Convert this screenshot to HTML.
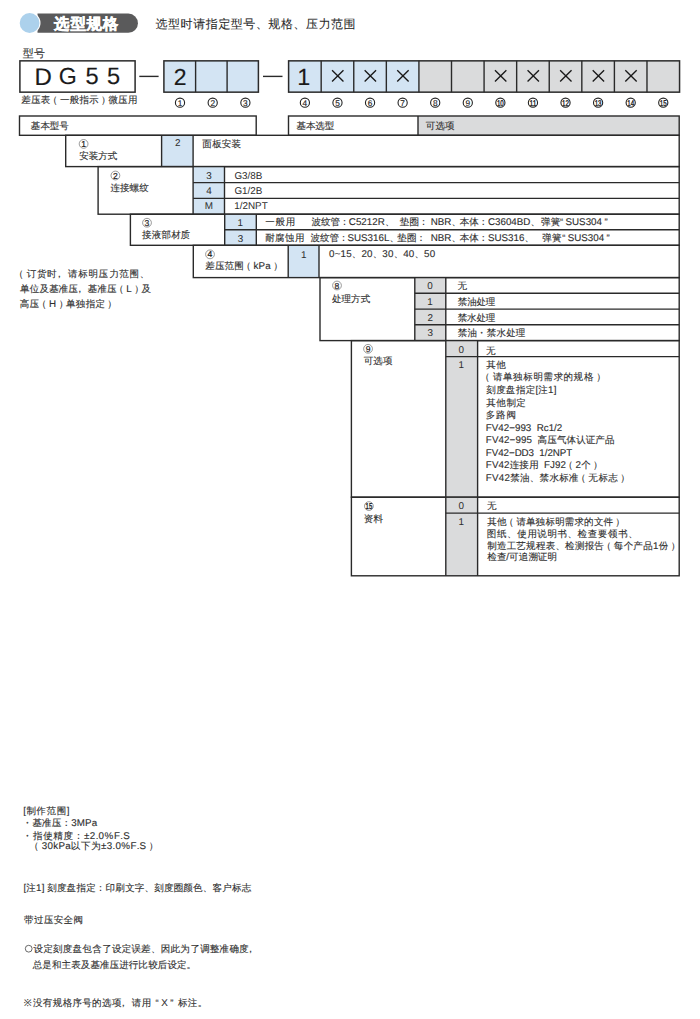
<!DOCTYPE html>
<html><head><meta charset="utf-8"><title>选型规格</title>
<style>
html,body{margin:0;padding:0;background:#fff;width:700px;height:1019px;overflow:hidden}
svg{display:block;font-family:"Liberation Sans", sans-serif;text-rendering:geometricPrecision}
</style></head><body>
<svg width="700" height="1019" viewBox="0 0 700 1019">
<path d="M37.5 13.6 H128.4 A9.55 9.55 0 0 1 128.4 32.7 H37.5 Z" fill="#5a5a5b"/>
<circle cx="29.6" cy="23" r="10.9" fill="#fff"/>
<circle cx="29.6" cy="23" r="9.9" fill="#acd1ec"/>
<text x="54.10 70.39 86.56 102.85" y="29.25" font-size="15.4" font-weight="bold" fill="#fff" stroke="#fff" stroke-width="0.45">选型规格</text>
<text x="155.45 168.11 180.39 193.29 205.83 218.48 230.76 243.30 255.89 268.24 281.02 293.49 305.95 318.86 330.89 343.55" y="28.12" font-size="12" fill="#2a2a2a" stroke="#2a2a2a" stroke-width="0.08">选型时请指定型号、规格、压力范围</text>
<text x="22.85 34.10" y="56.60" font-size="11" fill="#2e2e2e" stroke="#2e2e2e" stroke-width="0.1">型号</text>
<rect x="19.9" y="60.85" width="115.20" height="31.30" fill="none" stroke="#2a2a2a" stroke-width="1.5"/>
<text x="34.40" y="84.50" font-size="24.0" fill="#1a1a1a" stroke="#1a1a1a" stroke-width="0.15">D</text>
<text x="58.75" y="84.25" font-size="23.2" fill="#1a1a1a" stroke="#1a1a1a" stroke-width="0.15">G</text>
<text x="85.40" y="84.25" font-size="23.6" fill="#1a1a1a" stroke="#1a1a1a" stroke-width="0.15">5</text>
<text x="106.90" y="84.25" font-size="23.6" fill="#1a1a1a" stroke="#1a1a1a" stroke-width="0.15">5</text>
<text x="21.25 30.93 40.73 47.91 59.97 69.77 79.58 89.01 101.06 108.49 118.05 128.10" y="102.92" font-size="9.5" fill="#2e2e2e" stroke="#2e2e2e" stroke-width="0.12">差压表（一般指示）微压用</text>
<line x1="139.3" y1="76.4" x2="158.6" y2="76.4" stroke="#2a2a2a" stroke-width="1.4"/>
<rect x="163.9" y="60.85" width="94.50" height="31.30" fill="#d3e4f3" stroke="#2a2a2a" stroke-width="1.5"/>
<line x1="195.6" y1="60.85" x2="195.6" y2="92.15" stroke="#2a2a2a" stroke-width="1.4"/>
<line x1="227.1" y1="60.85" x2="227.1" y2="92.15" stroke="#2a2a2a" stroke-width="1.4"/>
<text x="173.75" y="84.50" font-size="23.0" fill="#1a1a1a" stroke="#1a1a1a" stroke-width="0.15">2</text>
<line x1="263" y1="76.4" x2="282.5" y2="76.4" stroke="#2a2a2a" stroke-width="1.4"/>
<rect x="288.6" y="60.85" width="32.58" height="31.30" fill="#d3e4f3"/>
<rect x="321.18" y="60.85" width="32.58" height="31.30" fill="#d3e4f3"/>
<rect x="353.76" y="60.85" width="32.58" height="31.30" fill="#d3e4f3"/>
<rect x="386.34000000000003" y="60.85" width="32.58" height="31.30" fill="#d3e4f3"/>
<rect x="418.92" y="60.85" width="32.58" height="31.30" fill="#dadbdc"/>
<rect x="451.5" y="60.85" width="32.58" height="31.30" fill="#dadbdc"/>
<rect x="484.08000000000004" y="60.85" width="32.58" height="31.30" fill="#dadbdc"/>
<rect x="516.6600000000001" y="60.85" width="32.58" height="31.30" fill="#dadbdc"/>
<rect x="549.24" y="60.85" width="32.58" height="31.30" fill="#dadbdc"/>
<rect x="581.8199999999999" y="60.85" width="32.58" height="31.30" fill="#dadbdc"/>
<rect x="614.4" y="60.85" width="32.58" height="31.30" fill="#dadbdc"/>
<rect x="646.98" y="60.85" width="32.58" height="31.30" fill="#dadbdc"/>
<rect x="288.6" y="60.85" width="390.96" height="31.30" fill="none" stroke="#2a2a2a" stroke-width="1.5"/>
<line x1="321.18" y1="60.85" x2="321.18" y2="92.15" stroke="#2a2a2a" stroke-width="1.4"/>
<line x1="353.76" y1="60.85" x2="353.76" y2="92.15" stroke="#2a2a2a" stroke-width="1.4"/>
<line x1="386.34000000000003" y1="60.85" x2="386.34000000000003" y2="92.15" stroke="#2a2a2a" stroke-width="1.4"/>
<line x1="418.92" y1="60.85" x2="418.92" y2="92.15" stroke="#2a2a2a" stroke-width="1.4"/>
<line x1="451.5" y1="60.85" x2="451.5" y2="92.15" stroke="#2a2a2a" stroke-width="1.4"/>
<line x1="484.08000000000004" y1="60.85" x2="484.08000000000004" y2="92.15" stroke="#2a2a2a" stroke-width="1.4"/>
<line x1="516.6600000000001" y1="60.85" x2="516.6600000000001" y2="92.15" stroke="#2a2a2a" stroke-width="1.4"/>
<line x1="549.24" y1="60.85" x2="549.24" y2="92.15" stroke="#2a2a2a" stroke-width="1.4"/>
<line x1="581.8199999999999" y1="60.85" x2="581.8199999999999" y2="92.15" stroke="#2a2a2a" stroke-width="1.4"/>
<line x1="614.4" y1="60.85" x2="614.4" y2="92.15" stroke="#2a2a2a" stroke-width="1.4"/>
<line x1="646.98" y1="60.85" x2="646.98" y2="92.15" stroke="#2a2a2a" stroke-width="1.4"/>
<text x="297.32" y="84.62" font-size="23.4" fill="#1a1a1a" stroke="#1a1a1a" stroke-width="0.15">1</text>
<path d="M332.07 70.20 L343.47 81.60 M343.47 70.20 L332.07 81.60" stroke="#1a1a1a" stroke-width="1.35"/>
<path d="M364.65 70.20 L376.05 81.60 M376.05 70.20 L364.65 81.60" stroke="#1a1a1a" stroke-width="1.35"/>
<path d="M397.23 70.20 L408.63 81.60 M408.63 70.20 L397.23 81.60" stroke="#1a1a1a" stroke-width="1.35"/>
<path d="M494.97 70.20 L506.37 81.60 M506.37 70.20 L494.97 81.60" stroke="#1a1a1a" stroke-width="1.35"/>
<path d="M527.55 70.20 L538.95 81.60 M538.95 70.20 L527.55 81.60" stroke="#1a1a1a" stroke-width="1.35"/>
<path d="M560.13 70.20 L571.53 81.60 M571.53 70.20 L560.13 81.60" stroke="#1a1a1a" stroke-width="1.35"/>
<path d="M592.71 70.20 L604.11 81.60 M604.11 70.20 L592.71 81.60" stroke="#1a1a1a" stroke-width="1.35"/>
<path d="M625.29 70.20 L636.69 81.60 M636.69 70.20 L625.29 81.60" stroke="#1a1a1a" stroke-width="1.35"/>
<circle cx="180.00" cy="102.70" r="4.6" fill="none" stroke="#222" stroke-width="1.1"/>
<text x="180.00" y="105.64" font-size="8.3" text-anchor="middle" fill="#1e1e1e" stroke="#1e1e1e" stroke-width="0.15">1</text>
<circle cx="212.70" cy="102.70" r="4.6" fill="none" stroke="#222" stroke-width="1.1"/>
<text x="212.70" y="105.64" font-size="8.3" text-anchor="middle" fill="#1e1e1e" stroke="#1e1e1e" stroke-width="0.15">2</text>
<circle cx="245.40" cy="102.70" r="4.6" fill="none" stroke="#222" stroke-width="1.1"/>
<text x="245.40" y="105.64" font-size="8.3" text-anchor="middle" fill="#1e1e1e" stroke="#1e1e1e" stroke-width="0.15">3</text>
<circle cx="304.89" cy="102.70" r="4.6" fill="none" stroke="#222" stroke-width="1.1"/>
<text x="304.89" y="105.64" font-size="8.3" text-anchor="middle" fill="#1e1e1e" stroke="#1e1e1e" stroke-width="0.15">4</text>
<circle cx="337.47" cy="102.70" r="4.6" fill="none" stroke="#222" stroke-width="1.1"/>
<text x="337.47" y="105.64" font-size="8.3" text-anchor="middle" fill="#1e1e1e" stroke="#1e1e1e" stroke-width="0.15">5</text>
<circle cx="370.05" cy="102.70" r="4.6" fill="none" stroke="#222" stroke-width="1.1"/>
<text x="370.05" y="105.64" font-size="8.3" text-anchor="middle" fill="#1e1e1e" stroke="#1e1e1e" stroke-width="0.15">6</text>
<circle cx="402.63" cy="102.70" r="4.6" fill="none" stroke="#222" stroke-width="1.1"/>
<text x="402.63" y="105.64" font-size="8.3" text-anchor="middle" fill="#1e1e1e" stroke="#1e1e1e" stroke-width="0.15">7</text>
<circle cx="435.21" cy="102.70" r="4.6" fill="none" stroke="#222" stroke-width="1.1"/>
<text x="435.21" y="105.64" font-size="8.3" text-anchor="middle" fill="#1e1e1e" stroke="#1e1e1e" stroke-width="0.15">8</text>
<circle cx="467.79" cy="102.70" r="4.6" fill="none" stroke="#222" stroke-width="1.1"/>
<text x="467.79" y="105.64" font-size="8.3" text-anchor="middle" fill="#1e1e1e" stroke="#1e1e1e" stroke-width="0.15">9</text>
<circle cx="500.37" cy="102.70" r="4.6" fill="none" stroke="#222" stroke-width="1.1"/>
<text x="496.92" y="105.64" font-size="8.3" textLength="6.90" lengthAdjust="spacingAndGlyphs" fill="#1e1e1e" stroke="#1e1e1e" stroke-width="0.35">10</text>
<circle cx="532.95" cy="102.70" r="4.6" fill="none" stroke="#222" stroke-width="1.1"/>
<text x="529.50" y="105.64" font-size="8.3" textLength="6.90" lengthAdjust="spacingAndGlyphs" fill="#1e1e1e" stroke="#1e1e1e" stroke-width="0.35">11</text>
<circle cx="565.53" cy="102.70" r="4.6" fill="none" stroke="#222" stroke-width="1.1"/>
<text x="562.08" y="105.64" font-size="8.3" textLength="6.90" lengthAdjust="spacingAndGlyphs" fill="#1e1e1e" stroke="#1e1e1e" stroke-width="0.35">12</text>
<circle cx="598.11" cy="102.70" r="4.6" fill="none" stroke="#222" stroke-width="1.1"/>
<text x="594.66" y="105.64" font-size="8.3" textLength="6.90" lengthAdjust="spacingAndGlyphs" fill="#1e1e1e" stroke="#1e1e1e" stroke-width="0.35">13</text>
<circle cx="630.69" cy="102.70" r="4.6" fill="none" stroke="#222" stroke-width="1.1"/>
<text x="627.24" y="105.64" font-size="8.3" textLength="6.90" lengthAdjust="spacingAndGlyphs" fill="#1e1e1e" stroke="#1e1e1e" stroke-width="0.35">14</text>
<circle cx="663.27" cy="102.70" r="4.6" fill="none" stroke="#222" stroke-width="1.1"/>
<text x="659.82" y="105.64" font-size="8.3" textLength="6.90" lengthAdjust="spacingAndGlyphs" fill="#1e1e1e" stroke="#1e1e1e" stroke-width="0.35">15</text>
<rect x="19.5" y="116" width="236.70" height="19.30" fill="none" stroke="#2a2a2a" stroke-width="1.4"/>
<rect x="418" y="116" width="261.20" height="19.30" fill="#dadbdc"/>
<rect x="288.5" y="116" width="390.70" height="19.30" fill="none" stroke="#2a2a2a" stroke-width="1.4"/>
<line x1="418" y1="116" x2="418" y2="135.3" stroke="#2a2a2a" stroke-width="1.4"/>
<text x="30.85 40.39 49.81 59.35" y="129.10" font-size="9.5" fill="#2e2e2e" stroke="#2e2e2e" stroke-width="0.12">基本型号</text>
<text x="296.55 305.96 315.24 324.65" y="129.10" font-size="9.5" fill="#2e2e2e" stroke="#2e2e2e" stroke-width="0.12">基本选型</text>
<text x="425.85 435.39 445.05" y="129.10" font-size="9.5" fill="#2e2e2e" stroke="#2e2e2e" stroke-width="0.12">可选项</text>
<rect x="161.6" y="135.3" width="31.50" height="31.30" fill="#d3e4f3"/>
<rect x="65.7" y="135.3" width="613.50" height="31.30" fill="none" stroke="#2a2a2a" stroke-width="1.4"/>
<line x1="161.6" y1="135.3" x2="161.6" y2="166.6" stroke="#2a2a2a" stroke-width="1.4"/>
<line x1="193.1" y1="135.3" x2="193.1" y2="166.6" stroke="#2a2a2a" stroke-width="1.4"/>
<circle cx="83.60" cy="143.90" r="4.4" fill="none" stroke="#707070" stroke-width="0.7"/>
<text x="83.60" y="146.95" font-size="8.6" text-anchor="middle" fill="#222" stroke="#222" stroke-width="0.2">1</text>
<text x="79.35 88.77 98.31 107.85" y="159.38" font-size="9.5" fill="#2e2e2e" stroke="#2e2e2e" stroke-width="0.12">安装方式</text>
<text x="174.95" y="146.07" font-size="9.9" fill="#2e2e2e">2</text>
<text x="202.25 212.22 221.81 231.40" y="146.53" font-size="9.5" fill="#2e2e2e" stroke="#2e2e2e" stroke-width="0.12">面板安装</text>
<rect x="193.1" y="166.6" width="31.40" height="47.60" fill="#d3e4f3"/>
<rect x="98.1" y="166.6" width="581.10" height="47.60" fill="none" stroke="#2a2a2a" stroke-width="1.4"/>
<line x1="193.1" y1="166.6" x2="193.1" y2="214.2" stroke="#2a2a2a" stroke-width="1.4"/>
<line x1="224.5" y1="166.6" x2="224.5" y2="214.2" stroke="#2a2a2a" stroke-width="1.4"/>
<line x1="193.1" y1="182.6" x2="679.2" y2="182.6" stroke="#2a2a2a" stroke-width="1.4"/>
<line x1="193.1" y1="198.4" x2="679.2" y2="198.4" stroke="#2a2a2a" stroke-width="1.4"/>
<circle cx="115.40" cy="175.50" r="4.4" fill="none" stroke="#707070" stroke-width="0.7"/>
<text x="115.40" y="178.55" font-size="8.6" text-anchor="middle" fill="#222" stroke="#222" stroke-width="0.2">2</text>
<text x="110.45 119.89 129.46 139.15" y="190.75" font-size="9.5" fill="#2e2e2e" stroke="#2e2e2e" stroke-width="0.12">连接螺纹</text>
<text x="206.15" y="178.72" font-size="9.9" fill="#2e2e2e">3</text>
<text x="234.40 242.09 247.59 250.34 255.84" y="178.85" font-size="9.9" fill="#2e2e2e">G3/8B</text>
<text x="206.15" y="193.98" font-size="9.9" fill="#2e2e2e">4</text>
<text x="234.40 242.09 247.59 250.34 255.84" y="194.10" font-size="9.9" fill="#2e2e2e">G1/2B</text>
<text x="204.78" y="208.97" font-size="9.9" fill="#2e2e2e">M</text>
<text x="234.15 239.65 242.40 247.90 255.04 261.63" y="209.10" font-size="9.9" fill="#2e2e2e">1/2NPT</text>
<rect x="224.7" y="214.2" width="31.60" height="31.10" fill="#d3e4f3"/>
<rect x="130.4" y="214.2" width="548.80" height="31.10" fill="none" stroke="#2a2a2a" stroke-width="1.4"/>
<line x1="224.7" y1="214.2" x2="224.7" y2="245.3" stroke="#2a2a2a" stroke-width="1.4"/>
<line x1="256.3" y1="214.2" x2="256.3" y2="245.3" stroke="#2a2a2a" stroke-width="1.4"/>
<line x1="224.7" y1="229.8" x2="679.2" y2="229.8" stroke="#2a2a2a" stroke-width="1.4"/>
<circle cx="147.00" cy="222.75" r="4.4" fill="none" stroke="#707070" stroke-width="0.7"/>
<text x="147.00" y="225.80" font-size="8.6" text-anchor="middle" fill="#222" stroke="#222" stroke-width="0.2">3</text>
<text x="142.05 151.83 161.61 171.14 180.55" y="237.98" font-size="9.5" fill="#2e2e2e" stroke="#2e2e2e" stroke-width="0.12">接液部材质</text>
<text x="237.62" y="225.68" font-size="9.9" fill="#2e2e2e">1</text>
<text x="237.75" y="241.52" font-size="9.9" fill="#2e2e2e">3</text>
<text x="265.20 275.44 285.80" y="225.18" font-size="9.5" fill="#2e2e2e" stroke="#2e2e2e" stroke-width="0.12">一般用</text>
<text x="311.45 320.95 330.45 339.82" y="225.30" font-size="9.5" fill="#2e2e2e" stroke="#2e2e2e" stroke-width="0.12">波纹管：</text>
<text x="348.80 355.88 361.33 366.78 372.24 377.69" y="224.80" font-size="9.8" fill="#2e2e2e" stroke="#2e2e2e" stroke-width="0.12">C5212R</text>
<text x="384.91" y="224.80" font-size="9.5" fill="#2e2e2e" stroke="#2e2e2e" stroke-width="0.12">、</text>
<text x="399.75 409.38 418.75" y="225.30" font-size="9.5" fill="#2e2e2e" stroke="#2e2e2e" stroke-width="0.12">垫圈：</text>
<text x="430.65 437.73 444.27" y="224.80" font-size="9.8" fill="#2e2e2e" stroke="#2e2e2e" stroke-width="0.12">NBR</text>
<text x="451.49" y="224.80" font-size="9.5" fill="#2e2e2e" stroke="#2e2e2e" stroke-width="0.12">、</text>
<text x="459.65 469.15 478.52" y="225.30" font-size="9.5" fill="#2e2e2e" stroke="#2e2e2e" stroke-width="0.12">本体：</text>
<text x="487.90 494.98 500.43 505.88 511.34 516.79 523.34" y="224.80" font-size="9.8" fill="#2e2e2e" stroke="#2e2e2e" stroke-width="0.12">C3604BD</text>
<text x="530.56" y="224.80" font-size="9.5" fill="#2e2e2e" stroke="#2e2e2e" stroke-width="0.12">、</text>
<text x="541.05 550.67" y="225.18" font-size="9.5" fill="#2e2e2e" stroke="#2e2e2e" stroke-width="0.12">弹簧</text>
<text x="560.05" y="225.30" font-size="9.5" fill="#2e2e2e" stroke="#2e2e2e" stroke-width="0.12">“</text>
<text x="565.46 572.01 579.08 585.63 591.08 596.54" y="225.30" font-size="9.8" fill="#2e2e2e" stroke="#2e2e2e" stroke-width="0.12">SUS304</text>
<text x="604.40" y="225.30" font-size="9.5" fill="#2e2e2e" stroke="#2e2e2e" stroke-width="0.12">”</text>
<text x="265.20 275.00 284.93 295.10" y="241.32" font-size="9.5" fill="#2e2e2e" stroke="#2e2e2e" stroke-width="0.12">耐腐蚀用</text>
<text x="310.45 319.95 329.45 338.82" y="241.20" font-size="9.5" fill="#2e2e2e" stroke="#2e2e2e" stroke-width="0.12">波纹管：</text>
<text x="347.40 353.95 361.02 367.57 373.02 378.48 383.93" y="240.70" font-size="9.8" fill="#2e2e2e" stroke="#2e2e2e" stroke-width="0.12">SUS316L</text>
<text x="389.52" y="240.70" font-size="9.5" fill="#2e2e2e" stroke="#2e2e2e" stroke-width="0.12">、</text>
<text x="397.25 406.88 416.25" y="241.20" font-size="9.5" fill="#2e2e2e" stroke="#2e2e2e" stroke-width="0.12">垫圈：</text>
<text x="430.65 437.73 444.27" y="240.70" font-size="9.8" fill="#2e2e2e" stroke="#2e2e2e" stroke-width="0.12">NBR</text>
<text x="451.49" y="240.70" font-size="9.5" fill="#2e2e2e" stroke="#2e2e2e" stroke-width="0.12">、</text>
<text x="459.65 469.15 478.52" y="241.20" font-size="9.5" fill="#2e2e2e" stroke="#2e2e2e" stroke-width="0.12">本体：</text>
<text x="487.90 494.45 501.52 508.07 513.52 518.98" y="240.70" font-size="9.8" fill="#2e2e2e" stroke="#2e2e2e" stroke-width="0.12">SUS316</text>
<text x="524.57" y="240.70" font-size="9.5" fill="#2e2e2e" stroke="#2e2e2e" stroke-width="0.12">、</text>
<text x="542.35 551.98" y="241.07" font-size="9.5" fill="#2e2e2e" stroke="#2e2e2e" stroke-width="0.12">弹簧</text>
<text x="562.25" y="241.20" font-size="9.5" fill="#2e2e2e" stroke="#2e2e2e" stroke-width="0.12">“</text>
<text x="567.66 574.21 581.28 587.83 593.28 598.74" y="241.20" font-size="9.8" fill="#2e2e2e" stroke="#2e2e2e" stroke-width="0.12">SUS304</text>
<text x="606.60" y="241.20" font-size="9.5" fill="#2e2e2e" stroke="#2e2e2e" stroke-width="0.12">”</text>
<rect x="288.2" y="245.3" width="30.80" height="32.30" fill="#d3e4f3"/>
<rect x="193.3" y="245.3" width="485.90" height="32.30" fill="none" stroke="#2a2a2a" stroke-width="1.4"/>
<line x1="288.2" y1="245.3" x2="288.2" y2="277.6" stroke="#2a2a2a" stroke-width="1.4"/>
<line x1="319" y1="245.3" x2="319" y2="277.6" stroke="#2a2a2a" stroke-width="1.4"/>
<circle cx="210.00" cy="254.35" r="4.4" fill="none" stroke="#707070" stroke-width="0.7"/>
<text x="210.00" y="257.40" font-size="8.6" text-anchor="middle" fill="#222" stroke="#222" stroke-width="0.2">4</text>
<text x="205.25 214.92 224.58 234.37 241.54" y="269.15" font-size="9.5" fill="#2e2e2e" stroke="#2e2e2e" stroke-width="0.12">差压范围（</text>
<text x="253.58 258.57 265.23" y="269.15" font-size="9.8" fill="#2e2e2e" stroke="#2e2e2e" stroke-width="0.12">kPa</text>
<text x="273.15" y="269.15" font-size="9.5" fill="#2e2e2e" stroke="#2e2e2e" stroke-width="0.12">）</text>
<text x="300.93" y="257.68" font-size="9.9" fill="#2e2e2e">1</text>
<text x="329.10 334.68 340.55 346.14" y="257.30" font-size="9.8" fill="#2e2e2e" stroke="#2e2e2e" stroke-width="0.12">0~15</text>
<text x="351.86" y="257.30" font-size="9.5" fill="#2e2e2e" stroke="#2e2e2e" stroke-width="0.12">、</text>
<text x="361.44 367.03" y="257.30" font-size="9.8" fill="#2e2e2e" stroke="#2e2e2e" stroke-width="0.12">20</text>
<text x="372.75" y="257.30" font-size="9.5" fill="#2e2e2e" stroke="#2e2e2e" stroke-width="0.12">、</text>
<text x="382.34 387.92" y="257.30" font-size="9.8" fill="#2e2e2e" stroke="#2e2e2e" stroke-width="0.12">30</text>
<text x="393.64" y="257.30" font-size="9.5" fill="#2e2e2e" stroke="#2e2e2e" stroke-width="0.12">、</text>
<text x="403.23 408.81" y="257.30" font-size="9.8" fill="#2e2e2e" stroke="#2e2e2e" stroke-width="0.12">40</text>
<text x="414.53" y="257.30" font-size="9.5" fill="#2e2e2e" stroke="#2e2e2e" stroke-width="0.12">、</text>
<text x="424.12 429.70" y="257.30" font-size="9.8" fill="#2e2e2e" stroke="#2e2e2e" stroke-width="0.12">50</text>
<text x="14.05 26.82 36.97 47.00 54.41 67.92 78.19 88.59 98.61 109.39 119.16 129.56 139.85" y="276.65" font-size="9.5" fill="#2e2e2e" stroke="#2e2e2e" stroke-width="0.12">（订货时，请标明压力范围、</text>
<text x="20.05 29.83 39.49 49.15 58.55 68.33 74.88 87.77 97.18 106.96 114.24" y="291.75" font-size="9.5" fill="#2e2e2e" stroke="#2e2e2e" stroke-width="0.12">单位及基准压，基准压（</text>
<text x="126.28" y="291.75" font-size="9.8" fill="#2e2e2e" stroke="#2e2e2e" stroke-width="0.12">L</text>
<text x="134.19 141.60" y="291.75" font-size="9.5" fill="#2e2e2e" stroke="#2e2e2e" stroke-width="0.12">）及</text>
<text x="19.80 29.54 36.90" y="307.38" font-size="9.5" fill="#2e2e2e" stroke="#2e2e2e" stroke-width="0.12">高压（</text>
<text x="49.02" y="307.38" font-size="9.8" fill="#2e2e2e" stroke="#2e2e2e" stroke-width="0.12">H</text>
<text x="58.65 66.02 75.76 85.75 95.49 107.35" y="307.38" font-size="9.5" fill="#2e2e2e" stroke="#2e2e2e" stroke-width="0.12">）单独指定）</text>
<rect x="414.8" y="277.6" width="31.00" height="63.00" fill="#dadbdc"/>
<rect x="320" y="277.6" width="359.20" height="63.00" fill="none" stroke="#2a2a2a" stroke-width="1.4"/>
<line x1="414.8" y1="277.6" x2="414.8" y2="340.6" stroke="#2a2a2a" stroke-width="1.4"/>
<line x1="445.8" y1="277.6" x2="445.8" y2="340.6" stroke="#2a2a2a" stroke-width="1.4"/>
<line x1="414.8" y1="293.3" x2="679.2" y2="293.3" stroke="#2a2a2a" stroke-width="1.4"/>
<line x1="414.8" y1="309.1" x2="679.2" y2="309.1" stroke="#2a2a2a" stroke-width="1.4"/>
<line x1="414.8" y1="324.8" x2="679.2" y2="324.8" stroke="#2a2a2a" stroke-width="1.4"/>
<circle cx="337.00" cy="285.50" r="4.4" fill="none" stroke="#707070" stroke-width="0.7"/>
<text x="337.00" y="288.55" font-size="8.6" text-anchor="middle" fill="#222" stroke="#222" stroke-width="0.2">8</text>
<text x="332.05 341.57 351.10 360.75" y="301.52" font-size="9.5" fill="#2e2e2e" stroke="#2e2e2e" stroke-width="0.12">处理方式</text>
<text x="427.32" y="288.73" font-size="9.9" fill="#2e2e2e">0</text>
<text x="427.32" y="304.93" font-size="9.9" fill="#2e2e2e">1</text>
<text x="427.45" y="320.67" font-size="9.9" fill="#2e2e2e">2</text>
<text x="427.45" y="336.48" font-size="9.9" fill="#2e2e2e">3</text>
<text x="457.40" y="289.48" font-size="9.5" fill="#2e2e2e" stroke="#2e2e2e" stroke-width="0.12">无</text>
<text x="457.65 467.14 476.51 485.75" y="304.95" font-size="9.5" fill="#2e2e2e" stroke="#2e2e2e" stroke-width="0.12">禁油处理</text>
<text x="457.65 467.02 476.51 485.75" y="320.80" font-size="9.5" fill="#2e2e2e" stroke="#2e2e2e" stroke-width="0.12">禁水处理</text>
<text x="457.65 467.46 476.77 486.70 496.38 506.19 515.75" y="336.40" font-size="9.5" fill="#2e2e2e" stroke="#2e2e2e" stroke-width="0.12">禁油・禁水处理</text>
<rect x="445.8" y="340.6" width="31.80" height="156.60" fill="#dadbdc"/>
<rect x="351.4" y="340.6" width="327.80" height="156.60" fill="none" stroke="#2a2a2a" stroke-width="1.4"/>
<line x1="445.8" y1="340.6" x2="445.8" y2="497.2" stroke="#2a2a2a" stroke-width="1.4"/>
<line x1="477.6" y1="340.6" x2="477.6" y2="497.2" stroke="#2a2a2a" stroke-width="1.4"/>
<line x1="445.8" y1="356.6" x2="679.2" y2="356.6" stroke="#2a2a2a" stroke-width="1.4"/>
<circle cx="368.05" cy="348.80" r="4.4" fill="none" stroke="#707070" stroke-width="0.7"/>
<text x="368.05" y="351.85" font-size="8.6" text-anchor="middle" fill="#222" stroke="#222" stroke-width="0.2">9</text>
<text x="363.75 373.34 383.05" y="363.85" font-size="9.5" fill="#2e2e2e" stroke="#2e2e2e" stroke-width="0.12">可选项</text>
<text x="458.62" y="353.02" font-size="9.9" fill="#2e2e2e">0</text>
<text x="486.10" y="353.52" font-size="9.5" fill="#2e2e2e" stroke="#2e2e2e" stroke-width="0.12">无</text>
<text x="458.62" y="368.38" font-size="9.9" fill="#2e2e2e">1</text>
<text x="486.35 496.20" y="368.27" font-size="9.5" fill="#2e2e2e" stroke="#2e2e2e" stroke-width="0.12">其他</text>
<text x="480.35 492.95 502.92 513.01 523.23 533.45 543.17 553.64 563.49 573.58 583.93 596.15" y="380.40" font-size="9.5" fill="#2e2e2e" stroke="#2e2e2e" stroke-width="0.12">（请单独标明需求的规格）</text>
<text x="486.35 496.18 505.77 515.98 525.81" y="393.23" font-size="9.5" fill="#2e2e2e" stroke="#2e2e2e" stroke-width="0.12">刻度盘指定</text>
<text x="535.39" y="393.23" font-size="9.8" fill="#2e2e2e" stroke="#2e2e2e" stroke-width="0.12">[</text>
<text x="538.22" y="393.23" font-size="9.5" fill="#2e2e2e" stroke="#2e2e2e" stroke-width="0.12">注</text>
<text x="548.06 553.70" y="393.23" font-size="9.8" fill="#2e2e2e" stroke="#2e2e2e" stroke-width="0.12">1]</text>
<text x="486.35 496.27 506.43 516.35" y="405.85" font-size="9.5" fill="#2e2e2e" stroke="#2e2e2e" stroke-width="0.12">其他制定</text>
<text x="485.85 496.12 506.40" y="418.00" font-size="9.5" fill="#2e2e2e" stroke="#2e2e2e" stroke-width="0.12">多路阀</text>
<text x="485.85 491.82 498.35 503.78 509.22 514.94 520.38 525.81 536.69 543.74 548.64 554.07 556.80" y="430.85" font-size="9.8" fill="#2e2e2e" stroke="#2e2e2e" stroke-width="0.12">FV42−993Rc1/2</text>
<text x="485.85 491.92 498.55 504.08 509.61 515.42 520.95 526.47" y="442.88" font-size="9.8" fill="#2e2e2e" stroke="#2e2e2e" stroke-width="0.12">FV42−995</text>
<text x="537.52 547.15 556.91 566.53 576.16 585.79 595.17 605.05" y="442.88" font-size="9.5" fill="#2e2e2e" stroke="#2e2e2e" stroke-width="0.12">高压气体认证产品</text>
<text x="485.85 491.75 498.21 503.59 508.97 514.63 521.61 528.60 539.35 544.73 547.43 552.81 559.79 566.25" y="455.50" font-size="9.8" fill="#2e2e2e" stroke="#2e2e2e" stroke-width="0.12">FV42−DD31/2NPT</text>
<text x="485.85 491.90 498.52 504.04" y="468.00" font-size="9.8" fill="#2e2e2e" stroke="#2e2e2e" stroke-width="0.12">FV42</text>
<text x="509.68 519.17 529.15" y="468.00" font-size="9.5" fill="#2e2e2e" stroke="#2e2e2e" stroke-width="0.12">连接用</text>
<text x="543.89 549.95 554.91 560.43" y="468.00" font-size="9.8" fill="#2e2e2e" stroke="#2e2e2e" stroke-width="0.12">FJ92</text>
<text x="563.57" y="468.00" font-size="9.5" fill="#2e2e2e" stroke="#2e2e2e" stroke-width="0.12">（</text>
<text x="575.55" y="468.00" font-size="9.8" fill="#2e2e2e" stroke="#2e2e2e" stroke-width="0.12">2</text>
<text x="581.19 593.05" y="468.00" font-size="9.5" fill="#2e2e2e" stroke="#2e2e2e" stroke-width="0.12">个）</text>
<text x="485.85 492.03 498.78 504.41" y="480.88" font-size="9.8" fill="#2e2e2e" stroke="#2e2e2e" stroke-width="0.12">FV42</text>
<text x="510.16 520.09 529.78 539.57 549.38 559.18 568.73 576.29 588.34 598.39 608.20 620.25" y="480.88" font-size="9.5" fill="#2e2e2e" stroke="#2e2e2e" stroke-width="0.12">禁油、禁水标准（无标志）</text>
<rect x="445.8" y="497.2" width="31.80" height="78.60" fill="#dadbdc"/>
<rect x="351.4" y="497.2" width="327.80" height="78.60" fill="none" stroke="#2a2a2a" stroke-width="1.4"/>
<line x1="445.8" y1="497.2" x2="445.8" y2="575.8" stroke="#2a2a2a" stroke-width="1.4"/>
<line x1="477.6" y1="497.2" x2="477.6" y2="575.8" stroke="#2a2a2a" stroke-width="1.4"/>
<line x1="445.8" y1="513.1" x2="679.2" y2="513.1" stroke="#2a2a2a" stroke-width="1.4"/>
<circle cx="368.90" cy="506.10" r="4.4" fill="none" stroke="#707070" stroke-width="0.7"/>
<text x="365.60" y="509.15" font-size="8.6" textLength="6.60" lengthAdjust="spacingAndGlyphs" fill="#222" stroke="#222" stroke-width="0.4">15</text>
<text x="363.65 373.55" y="521.75" font-size="9.5" fill="#2e2e2e" stroke="#2e2e2e" stroke-width="0.12">资料</text>
<text x="458.62" y="508.82" font-size="9.9" fill="#2e2e2e">0</text>
<text x="487.00" y="508.57" font-size="9.5" fill="#2e2e2e" stroke="#2e2e2e" stroke-width="0.12">无</text>
<text x="458.62" y="524.62" font-size="9.9" fill="#2e2e2e">1</text>
<text x="487.25 496.92 504.22 516.39 525.93 535.61 545.40 555.20 564.49 574.54 583.96 593.88 603.43 615.35" y="525.12" font-size="9.5" fill="#2e2e2e" stroke="#2e2e2e" stroke-width="0.12">其他（请单独标明需求的文件）</text>
<text x="486.75 496.98 506.98 517.19 527.42 537.28 547.51 557.62 567.61 577.58 587.81 597.79 608.02 618.25 628.25" y="537.27" font-size="9.5" fill="#2e2e2e" stroke="#2e2e2e" stroke-width="0.12">图纸、使用说明书、检查要领书、</text>
<text x="487.25 497.01 506.64 516.28 526.04 535.92 545.68 555.46 565.08 575.09 584.85 594.36 601.74 613.87 623.76 633.27 643.28" y="548.60" font-size="9.5" fill="#2e2e2e" stroke="#2e2e2e" stroke-width="0.12">制造工艺规程表、检测报告（每个产品</text>
<text x="652.91" y="548.60" font-size="9.8" fill="#2e2e2e" stroke="#2e2e2e" stroke-width="0.12">1</text>
<text x="658.77 670.65" y="548.60" font-size="9.5" fill="#2e2e2e" stroke="#2e2e2e" stroke-width="0.12">份）</text>
<text x="487.25 496.92" y="559.90" font-size="9.5" fill="#2e2e2e" stroke="#2e2e2e" stroke-width="0.12">检查</text>
<text x="506.33" y="559.90" font-size="9.8" fill="#2e2e2e" stroke="#2e2e2e" stroke-width="0.12">/</text>
<text x="509.08 518.87 528.42 537.83 547.50" y="559.90" font-size="9.5" fill="#2e2e2e" stroke="#2e2e2e" stroke-width="0.12">可追溯证明</text>
<text x="23.35" y="813.65" font-size="9.8" fill="#2e2e2e" stroke="#2e2e2e" stroke-width="0.12">[</text>
<text x="26.51 36.37 46.48 56.71" y="813.65" font-size="9.5" fill="#2e2e2e" stroke="#2e2e2e" stroke-width="0.12">制作范围</text>
<text x="66.70" y="813.65" font-size="9.8" fill="#2e2e2e" stroke="#2e2e2e" stroke-width="0.12">]</text>
<text x="22.40 32.38 41.85 51.70 61.43" y="826.25" font-size="9.5" fill="#2e2e2e" stroke="#2e2e2e" stroke-width="0.12">・基准压：</text>
<text x="71.15 76.73 85.10 91.80" y="826.25" font-size="9.8" fill="#2e2e2e" stroke="#2e2e2e" stroke-width="0.12">3MPa</text>
<text x="22.40 33.02 43.26 53.25 63.62 73.74" y="838.85" font-size="9.5" fill="#2e2e2e" stroke="#2e2e2e" stroke-width="0.12">・指使精度：</text>
<text x="83.98 89.79 95.67 98.62 104.50 113.90 120.35 123.30" y="838.85" font-size="9.8" fill="#2e2e2e" stroke="#2e2e2e" stroke-width="0.12">±2.0%F.S</text>
<text x="29.35" y="849.15" font-size="9.5" fill="#2e2e2e" stroke="#2e2e2e" stroke-width="0.12">（</text>
<text x="41.74 47.49 53.24 58.41 65.32" y="849.15" font-size="9.8" fill="#2e2e2e" stroke="#2e2e2e" stroke-width="0.12">30kPa</text>
<text x="70.82 81.08 91.23" y="849.15" font-size="9.5" fill="#2e2e2e" stroke="#2e2e2e" stroke-width="0.12">以下为</text>
<text x="101.12 106.80 112.55 115.44 121.19 130.38 136.69 139.57" y="849.15" font-size="9.8" fill="#2e2e2e" stroke="#2e2e2e" stroke-width="0.12">±3.0%F.S</text>
<text x="148.85" y="849.15" font-size="9.5" fill="#2e2e2e" stroke="#2e2e2e" stroke-width="0.12">）</text>
<text x="23.55" y="890.83" font-size="9.8" fill="#2e2e2e" stroke="#2e2e2e" stroke-width="0.12">[</text>
<text x="26.35" y="890.83" font-size="9.5" fill="#2e2e2e" stroke="#2e2e2e" stroke-width="0.12">注</text>
<text x="36.06 41.64" y="890.83" font-size="9.8" fill="#2e2e2e" stroke="#2e2e2e" stroke-width="0.12">1]</text>
<text x="47.35 57.06 66.53 76.62 86.33 95.80 105.51 115.35 125.19 134.66 144.51 154.21 163.93 173.64 183.23 192.95 202.80 212.50 222.22 231.93 241.65" y="890.83" font-size="9.5" fill="#2e2e2e" stroke="#2e2e2e" stroke-width="0.12">刻度盘指定：印刷文字、刻度圈颜色、客户标志</text>
<text x="24.05 33.92 43.67 53.66 63.53 73.40" y="922.52" font-size="9.5" fill="#2e2e2e" stroke="#2e2e2e" stroke-width="0.12">带过压安全阀</text>
<circle cx="28.7" cy="948.7" r="3.4" fill="none" stroke="#444" stroke-width="0.8"/>
<text x="33.60 43.39 53.06 62.85 72.39 82.31 92.22 102.26 111.93 121.72 131.51 141.06 150.99 160.76 170.43 180.35 190.39 200.18 209.72 219.26 229.43 239.09 245.65" y="952.20" font-size="9.5" fill="#2e2e2e" stroke="#2e2e2e" stroke-width="0.12">设定刻度盘包含了设定误差、因此为了调整准确度，</text>
<text x="32.70 42.32 52.06 61.43 71.17 80.79 90.41 99.77 109.52 119.14 128.75 138.25 148.24 157.48 167.47 177.09 186.60" y="967.60" font-size="9.5" fill="#2e2e2e" stroke="#2e2e2e" stroke-width="0.12">总是和主表及基准压进行比较后设定。</text>
<text x="23.80 32.92 42.78 52.65 62.76 72.38 82.24 92.11 101.97 111.96 118.59 131.69 141.81 155.39" y="1006.08" font-size="9.5" fill="#2e2e2e" stroke="#2e2e2e" stroke-width="0.12">※没有规格序号的选项，请用“</text>
<text x="161.17" y="1006.08" font-size="9.8" fill="#2e2e2e" stroke="#2e2e2e" stroke-width="0.12">X</text>
<text x="170.37 177.95 187.69 197.70" y="1006.08" font-size="9.5" fill="#2e2e2e" stroke="#2e2e2e" stroke-width="0.12">”标注。</text>
</svg>
</body></html>
